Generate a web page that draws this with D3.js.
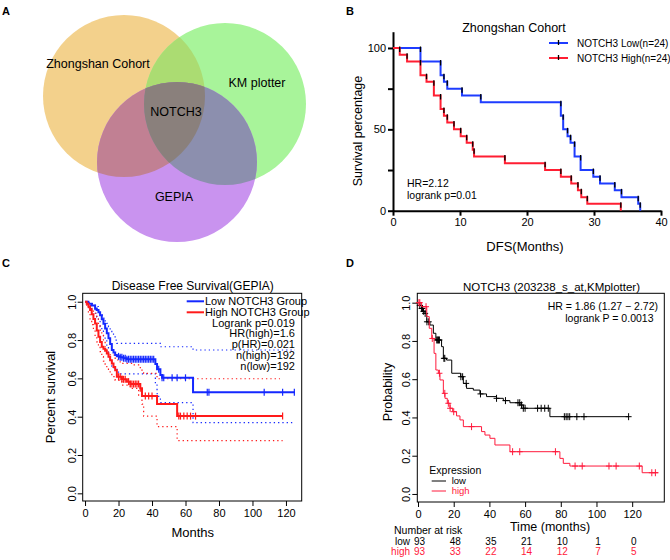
<!DOCTYPE html>
<html>
<head>
<meta charset="utf-8">
<script src="https://cdn.jsdelivr.net/npm/d3@7"></script>
<style>
  body { margin: 0; background: #fff; }
  text { font-family: "Liberation Sans", Arial, Helvetica, sans-serif; fill: #000; }
</style>
</head>
<body>
<svg id="fig" width="670" height="560"></svg>
<script>
// ---- data ----
var vennSets = ["Zhongshan Cohort", "KM plotter", "GEPIA"];
var vennCore = "NOTCH3";

// B: Zhongshan cohort (percent)
var zsLowTime  = [0, 4.1, 7.1, 7.6, 8.1, 10.3, 13.1, 25.05, 25.4, 26.05, 26.5, 27.1, 28.0, 29.9, 30.9, 33.1, 34.1, 36.6, 36.9];
var zsLowSurv  = [100, 91.7, 83.3, 79.2, 75, 70.8, 66.7, 58.3, 50, 45.8, 41.7, 33.3, 25, 20.8, 16.7, 12.5, 8.3, 4.2, 0];
var zsHighTime = [0, 1.0, 2.1, 4.1, 5.0, 6.1, 7.1, 7.6, 8.1, 9.1, 10.1, 11.0, 11.9, 12.1, 16.7, 22.7, 25.05, 26.6, 27.6, 28.1, 29.0, 34.0];
var zsHighSurv = [100, 95.8, 91.7, 83.3, 79.2, 70.8, 62.5, 58.3, 54.2, 50, 45.8, 41.7, 37.5, 33.3, 29.2, 25, 20.8, 16.7, 12.5, 8.3, 4.2, 0];
var zsLegend = ["NOTCH3 Low(n=24)", "NOTCH3 High(n=24)"];
var zsXTicks = [0, 10, 20, 30, 40];
var zsYTicks = [0, 25, 50, 75, 100];
var zsYLabels = [0, 50, 100];

// C: GEPIA
var gLowTime  = [0, 2, 4, 6, 7, 8, 9, 10, 11, 12, 13, 14, 15, 16, 17, 18, 19, 21, 23, 25, 42, 43, 45, 46, 64.5, 125.4];
var gLowSurv  = [1, 0.99, 0.98, 0.965, 0.957, 0.945, 0.93, 0.908, 0.885, 0.86, 0.835, 0.81, 0.78, 0.748, 0.735, 0.722, 0.715, 0.71, 0.705, 0.70, 0.675, 0.647, 0.617, 0.603, 0.527, 0.527];
var gLowUpTime = [0, 2, 4, 6, 8, 9, 10, 11, 12, 13, 14, 15, 16, 17, 18, 19, 45, 64.5, 125.4];
var gLowUp     = [1, 0.995, 0.99, 0.975, 0.955, 0.94, 0.93, 0.915, 0.9, 0.887, 0.87, 0.85, 0.835, 0.817, 0.80, 0.783, 0.765, 0.748, 0.748];
var gLowLoTime = [0, 2, 4, 6, 7, 8, 9, 10, 11, 12, 13, 14, 15, 16, 17, 18, 20, 42, 43, 44, 45, 64.5, 125.4];
var gLowLo     = [1, 0.98, 0.96, 0.94, 0.92, 0.9, 0.87, 0.85, 0.82, 0.80, 0.76, 0.713, 0.69, 0.664, 0.655, 0.647, 0.623, 0.574, 0.52, 0.5, 0.473, 0.369, 0.369];
var gHighTime = [0, 1, 2, 3, 4, 5, 6, 7, 8, 9, 10, 11, 12, 13, 14, 15, 16, 17, 18, 19, 22, 25, 27, 33, 34, 43, 55, 118];
var gHighSurv = [1, 0.99, 0.975, 0.957, 0.935, 0.91, 0.887, 0.85, 0.817, 0.79, 0.765, 0.755, 0.744, 0.73, 0.713, 0.695, 0.678, 0.66, 0.643, 0.609, 0.595, 0.583, 0.57, 0.548, 0.508, 0.466, 0.403, 0.403];
var gHighUpTime = [0, 2, 4, 5, 7, 8, 9, 10, 11, 12, 13, 14, 15, 18, 21, 29, 33, 35, 43, 116.4];
var gHighUp     = [1, 0.99, 0.965, 0.94, 0.913, 0.88, 0.852, 0.825, 0.795, 0.765, 0.745, 0.73, 0.722, 0.696, 0.678, 0.67, 0.643, 0.626, 0.598, 0.598];
var gHighLoTime = [0, 1, 2, 3, 4, 5, 6, 7, 8, 9, 10, 11, 12, 13, 14, 15, 16, 18, 22, 27, 32, 34, 35, 43, 55, 118];
var gHighLo     = [1, 0.97, 0.94, 0.91, 0.88, 0.852, 0.82, 0.79, 0.765, 0.74, 0.713, 0.69, 0.67, 0.657, 0.64, 0.625, 0.609, 0.59, 0.565, 0.548, 0.513, 0.466, 0.403, 0.348, 0.275, 0.275];
var gLowCens  = [20, 21, 22, 23, 24, 25, 26, 27, 28, 29, 30, 31, 32, 33, 34, 35, 36, 37, 38, 39, 40, 41, 44, 46, 47, 52, 55, 60, 73, 74, 107, 118, 125];
var gHighCens = [20, 21, 22, 23, 24, 26, 27, 28, 29, 30, 31, 32, 33, 36, 38, 40, 56, 57, 59, 61, 63, 66, 118];
var gLegend = ["Low NOTCH3 Group", "High NOTCH3 Group"];
var gStats = ["Logrank p=0.019", "HR(high)=1.6", "p(HR)=0.021", "n(high)=192", "n(low)=192"];
var gXTicks = [0, 20, 40, 60, 80, 100, 120];
var gYTicks = [0, 0.2, 0.4, 0.6, 0.8, 1.0];

// D: KM plotter
var kmLowTime  = [0, 1, 2, 3, 3.9, 4.9, 6.7, 8.6, 10, 13.2, 14.2, 16, 18.9, 23.9, 25.4, 27.2, 31, 34.7, 38.4, 44, 47.8, 51.5, 57.1, 59, 73.9, 118.3];
var kmLowSurv  = [1, 0.985, 0.97, 0.955, 0.944, 0.90, 0.883, 0.84, 0.805, 0.77, 0.709, 0.70, 0.631, 0.613, 0.578, 0.552, 0.543, 0.523, 0.509, 0.50, 0.488, 0.477, 0.465, 0.448, 0.404, 0.404];
var kmHighTime = [0, 2, 4.9, 6.3, 7.7, 9, 10, 11.4, 12.3, 14.2, 15.1, 16.4, 17.9, 19.4, 21.6, 23.5, 25.4, 35.6, 37.5, 40.3, 43.1, 51.5, 79.5, 81.4, 85.1, 125.6, 134.6];
var kmHighSurv = [1, 0.979, 0.927, 0.866, 0.813, 0.735, 0.648, 0.631, 0.596, 0.526, 0.50, 0.474, 0.448, 0.43, 0.408, 0.387, 0.352, 0.326, 0.308, 0.291, 0.256, 0.221, 0.186, 0.16, 0.146, 0.111, 0.111];
var kmLowCens  = [1, 2, 2.5, 3, 4, 5, 6, 10.5, 11, 11.5, 12, 14.5, 15, 24, 25, 27, 35, 44, 49, 56, 57, 58, 59, 60, 67, 69, 71, 73, 82, 83, 84, 85, 89, 93, 118];
var kmHighCens = [0.5, 1, 4.5, 8, 12, 15, 17, 18, 20, 30, 53, 57, 77, 88, 92, 107, 111, 124, 131, 133];
var kmGroups = ["low", "high"];
var riskTimes = [0, 20, 40, 60, 80, 100, 120];
var riskLow   = [93, 48, 35, 21, 10, 1, 0];
var riskHigh  = [93, 33, 22, 14, 12, 7, 5];
var kmXTicks = [0, 20, 40, 60, 80, 100, 120];
var kmYTicks = [0, 0.2, 0.4, 0.6, 0.8, 1.0];

// ---- helpers ----
var svg = d3.select("#fig");
function pairs(t, v) { return t.map(function(d, i) { return [d, v[i]]; }); }
function stepAt(t, v, x) { var i = d3.bisectRight(t, x) - 1; return v[Math.max(0, i)]; }
function stepLine(xs, ys) {
  return d3.line().curve(d3.curveStepAfter).x(function(d) { return xs(d[0]); }).y(function(d) { return ys(d[1]); });
}

// panel letters
[["A", 2, 15], ["B", 346, 15], ["C", 2, 267], ["D", 346, 267]].forEach(function(p) {
  svg.append("text").attr("x", p[1]).attr("y", p[2]).text(p[0])
    .style("font-weight", "bold").style("font-size", "11px");
});

// ---- A: venn ----
(function() {
  var g = svg.append("g");
  var circles = [
    { cx: 124, cy: 96, r: 81, fill: "#f3d18c" },
    { cx: 225, cy: 104, r: 81, fill: "#a8f49a" },
    { cx: 177, cy: 162, r: 80, fill: "#c993ef" }
  ];
  var defs = svg.append("defs");
  circles.forEach(function(c, i) {
    defs.append("clipPath").attr("id", "vc" + i)
      .append("circle").attr("cx", c.cx).attr("cy", c.cy).attr("r", c.r);
  });
  circles.forEach(function(c) {
    g.append("circle").attr("cx", c.cx).attr("cy", c.cy).attr("r", c.r).style("fill", c.fill);
  });
  // pairwise overlaps
  var pairFill = [[0, 1, "#abdc72"], [0, 2, "#c18093"], [1, 2, "#8c8fae"]];
  pairFill.forEach(function(p) {
    var c = circles[p[1]];
    g.append("circle").attr("cx", c.cx).attr("cy", c.cy).attr("r", c.r)
      .attr("clip-path", "url(#vc" + p[0] + ")").style("fill", p[2]);
  });
  var c2 = circles[2];
  g.append("g").attr("clip-path", "url(#vc0)")
    .append("circle").attr("cx", c2.cx).attr("cy", c2.cy).attr("r", c2.r)
    .attr("clip-path", "url(#vc1)").style("fill", "#8a807c");

  var lab = [[98, 64], [257, 83], [174, 197]];
  vennSets.forEach(function(s, i) {
    g.append("text").attr("x", lab[i][0]).attr("y", lab[i][1]).attr("dy", "0.35em")
      .attr("text-anchor", "middle").style("font-size", "12.5px").text(s);
  });
  g.append("text").attr("x", 176).attr("y", 112).attr("dy", "0.35em")
    .attr("text-anchor", "middle").style("font-size", "12.5px").text(vennCore);
})();

// ---- B: Zhongshan ----
(function() {
  var g = svg.append("g");
  var x = d3.scaleLinear().domain([0, 40]).range([393, 661]);
  var y = d3.scaleLinear().domain([0, 110]).range([210.7, 31.7]);
  var blue = "#1e3cff", red = "#ff1e32";

  var xa = g.append("g").attr("transform", "translate(0," + y(0) + ")")
    .call(d3.axisBottom(x).tickValues(zsXTicks).tickSize(5).tickPadding(3).tickSizeOuter(0));
  var ya = g.append("g").attr("transform", "translate(" + x(0) + ",0)")
    .call(d3.axisLeft(y).tickValues(zsYTicks).tickSize(5).tickPadding(2).tickSizeOuter(0)
      .tickFormat(function(d) { return zsYLabels.indexOf(d) >= 0 ? d : ""; }));
  [xa, ya].forEach(function(a) {
    a.selectAll("path,line").style("stroke", "#000").style("stroke-width", 2);
    a.selectAll("text").style("font-size", "11px");
  });

  [[zsLowTime, zsLowSurv, blue], [zsHighTime, zsHighSurv, red]].forEach(function(s) {
    g.append("path").datum(pairs(s[0], s[1])).attr("d", stepLine(x, y))
      .style("fill", "none").style("stroke", s[2]).style("stroke-width", 2);
    s[0].forEach(function(t, i) {
      if (i === 0) return;
      var yy = y(s[1][i - 1]);
      g.append("line").attr("x1", x(t)).attr("x2", x(t)).attr("y1", yy - 1.5).attr("y2", yy + 4)
        .style("stroke", "#000").style("stroke-width", 1.3);
    });
  });

  g.append("text").attr("x", 514).attr("y", 28).attr("dy", "0.35em").attr("text-anchor", "middle")
    .style("font-size", "12.5px").text("Zhongshan Cohort");
  g.append("text").attr("x", 525).attr("y", 246).attr("dy", "0.35em").attr("text-anchor", "middle")
    .style("font-size", "13px").text("DFS(Months)");
  g.append("text").attr("transform", "translate(358,131) rotate(-90)").attr("dy", "0.35em")
    .attr("text-anchor", "middle").style("font-size", "12.5px").text("Survival percentage");

  [blue, red].forEach(function(c, i) {
    var ly = 43 + i * 15;
    g.append("line").attr("x1", 549).attr("x2", 568).attr("y1", ly).attr("y2", ly)
      .style("stroke", c).style("stroke-width", 2);
    g.append("line").attr("x1", 558.5).attr("x2", 558.5).attr("y1", ly - 3).attr("y2", ly + 2)
      .style("stroke", "#000").style("stroke-width", 1.3);
    g.append("text").attr("x", 577).attr("y", ly).attr("dy", "0.35em")
      .style("font-size", "10px").text(zsLegend[i]);
  });
  g.append("text").attr("x", 407).attr("y", 183).attr("dy", "0.35em").style("font-size", "10.5px").text("HR=2.12");
  g.append("text").attr("x", 407).attr("y", 195.5).attr("dy", "0.35em").style("font-size", "10.5px").text("logrank p=0.01");
})();

// R style axes with rotated y labels
function rAxes(g, x, y, xt, yt, left, bottom, fmt) {
  var xa = g.append("g").attr("transform", "translate(0," + bottom + ")")
    .call(d3.axisBottom(x).tickValues(xt).tickSize(5).tickPadding(3).tickSizeOuter(0));
  xa.select(".domain").remove();
  var ya = g.append("g").attr("transform", "translate(" + left + ",0)")
    .call(d3.axisLeft(y).tickValues(yt).tickSize(5).tickSizeOuter(0).tickFormat(fmt));
  ya.select(".domain").remove();
  ya.selectAll("text").attr("x", null).attr("dy", "0.35em").attr("text-anchor", "middle")
    .attr("transform", "translate(-11,0) rotate(-90)");
  g.selectAll(".tick line").style("stroke", "#000");
  g.selectAll(".tick text").style("font-size", "11px");
}

// ---- C: GEPIA ----
(function() {
  var g = svg.append("g");
  var x = d3.scaleLinear().domain([-1.4, 129.4]).range([82.7, 301.7]);
  var y = d3.scaleLinear().domain([-0.04, 1.044]).range([501, 293.3]);
  var blue = "#1428ff", red = "#ff1a1a";
  rAxes(g, x, y, gXTicks, gYTicks, 82.7, 501, d3.format(".1f"));
  g.append("rect").attr("x", 82.7).attr("y", 293.3).attr("width", 219).attr("height", 207.7)
    .style("fill", "none").style("stroke", "#000").style("stroke-width", 1);

  var line = stepLine(x, y);
  [[gLowUpTime, gLowUp, blue], [gLowLoTime, gLowLo, blue], [gHighUpTime, gHighUp, red], [gHighLoTime, gHighLo, red]].forEach(function(s) {
    g.append("path").datum(pairs(s[0], s[1])).attr("d", line)
      .style("fill", "none").style("stroke", s[2]).style("stroke-width", 1.2)
      .style("stroke-dasharray", "1.3,3");
  });
  [[gLowTime, gLowSurv, blue, gLowCens], [gHighTime, gHighSurv, red, gHighCens]].forEach(function(s) {
    g.append("path").datum(pairs(s[0], s[1])).attr("d", line)
      .style("fill", "none").style("stroke", s[2]).style("stroke-width", 2);
    s[3].forEach(function(t) {
      var yy = y(stepAt(s[0], s[1], t));
      g.append("line").attr("x1", x(t)).attr("x2", x(t)).attr("y1", yy - 3.5).attr("y2", yy + 3.5)
        .style("stroke", s[2]).style("stroke-width", 1.2);
    });
  });

  g.append("text").attr("x", 192.7).attr("y", 286).attr("dy", "0.35em").attr("text-anchor", "middle")
    .style("font-size", "12px").text("Disease Free Survival(GEPIA)");
  g.append("text").attr("x", 192.7).attr("y", 532).attr("dy", "0.35em").attr("text-anchor", "middle")
    .style("font-size", "13px").text("Months");
  g.append("text").attr("transform", "translate(50,397) rotate(-90)").attr("dy", "0.35em")
    .attr("text-anchor", "middle").style("font-size", "13px").text("Percent survival");

  [blue, red].forEach(function(c, i) {
    var ly = 301.3 + i * 11;
    g.append("line").attr("x1", 186.7).attr("x2", 204).attr("y1", ly).attr("y2", ly)
      .style("stroke", c).style("stroke-width", 2);
    g.append("text").attr("x", 205).attr("y", ly).attr("dy", "0.35em")
      .style("font-size", "11px").text(gLegend[i]);
  });
  gStats.forEach(function(s, i) {
    g.append("text").attr("x", 295).attr("y", 322.7 + i * 10.8).attr("dy", "0.35em")
      .attr("text-anchor", "end").style("font-size", "11px").text(s);
  });
})();

// ---- D: KM plotter ----
(function() {
  var g = svg.append("g");
  var x = d3.scaleLinear().domain([-0.4, 138]).range([417.3, 664.3]);
  var y = d3.scaleLinear().domain([-0.042, 1.049]).range([502, 293.3]);
  var red = "#ff1a3c";
  rAxes(g, x, y, kmXTicks, kmYTicks, 417.3, 502, d3.format(".1f"));
  g.append("rect").attr("x", 417.3).attr("y", 293.3).attr("width", 247).attr("height", 208.7)
    .style("fill", "none").style("stroke", "#000").style("stroke-width", 1);

  var line = stepLine(x, y);
  [[kmLowTime, kmLowSurv, "#000", kmLowCens], [kmHighTime, kmHighSurv, red, kmHighCens]].forEach(function(s) {
    g.append("path").datum(pairs(s[0], s[1])).attr("d", line)
      .style("fill", "none").style("stroke", s[2]).style("stroke-width", 1);
    s[3].forEach(function(t) {
      var cx = x(t), cy = y(stepAt(s[0], s[1], t));
      g.append("path").attr("d", "M" + (cx - 3) + "," + cy + "H" + (cx + 3) + "M" + cx + "," + (cy - 3.5) + "V" + (cy + 3.5))
        .style("stroke", s[2]).style("stroke-width", 1);
    });
  });

  g.append("text").attr("x", 551.5).attr("y", 287).attr("dy", "0.35em").attr("text-anchor", "middle")
    .style("font-size", "11.5px").text("NOTCH3 (203238_s_at,KMplotter)");
  g.append("text").attr("x", 658).attr("y", 306).attr("dy", "0.35em").attr("text-anchor", "end")
    .style("font-size", "10.5px").text("HR = 1.86 (1.27 \u2212 2.72)");
  g.append("text").attr("x", 653.5).attr("y", 318.3).attr("dy", "0.35em").attr("text-anchor", "end")
    .style("font-size", "10.5px").text("logrank P = 0.0013");
  g.append("text").attr("x", 550).attr("y", 527).attr("dy", "0.35em").attr("text-anchor", "middle")
    .style("font-size", "12.5px").text("Time (months)");
  g.append("text").attr("transform", "translate(388,392) rotate(-90)").attr("dy", "0.35em")
    .attr("text-anchor", "middle").style("font-size", "12.5px").text("Probability");

  g.append("text").attr("x", 429.3).attr("y", 470).attr("dy", "0.35em").style("font-size", "10.5px").text("Expression");
  ["#000", red].forEach(function(c, i) {
    var ly = 481 + i * 10;
    g.append("line").attr("x1", 431.7).attr("x2", 446).attr("y1", ly).attr("y2", ly).style("stroke", c);
    g.append("text").attr("x", 451.7).attr("y", ly).attr("dy", "0.32em").style("font-size", "9.5px")
      .style("fill", c).text(kmGroups[i]);
  });

  g.append("text").attr("x", 394).attr("y", 530).attr("dy", "0.35em").style("font-size", "10.5px").text("Number at risk");
  [[riskLow, "#000", 541.7], [riskHigh, red, 551.7]].forEach(function(r, j) {
    g.append("text").attr("x", 410).attr("y", r[2]).attr("dy", "0.35em").attr("text-anchor", "end")
      .style("font-size", "10px").style("fill", r[1]).text(kmGroups[j]);
    r[0].forEach(function(v, i) {
      g.append("text").attr("x", x(riskTimes[i]) + 1.5).attr("y", r[2]).attr("dy", "0.35em").attr("text-anchor", "middle")
        .style("font-size", "10px").style("fill", r[1]).text(v);
    });
  });
})();
</script>
</body>
</html>
